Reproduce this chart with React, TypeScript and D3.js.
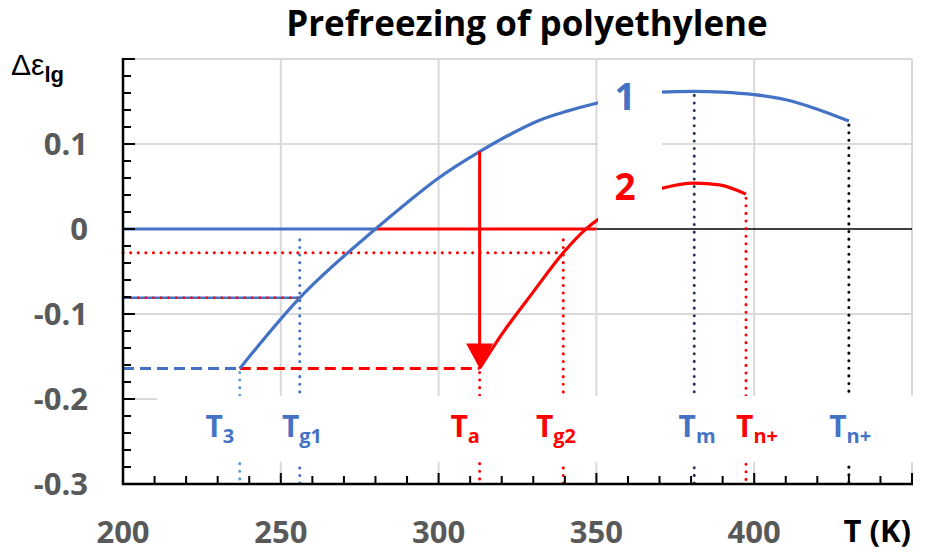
import React from 'react';
import * as d3 from 'd3';

// curve 1 (blue) and curve 2 (red)
const temps1 = [237, 256, 280, 290, 300, 313, 322, 332, 341, 350, 360, 370, 381, 390, 400, 410, 420, 430];
const vals1 = [-0.164, -0.081, 0, 0.031, 0.06, 0.091, 0.11, 0.128, 0.139, 0.148, 0.156, 0.161, 0.162, 0.161, 0.158, 0.152, 0.141, 0.127];

const temps2 = [313, 320, 330, 339.5, 347, 354, 362, 370.8, 381, 389, 397.4];
const vals2 = [-0.164, -0.124, -0.074, -0.028, 0.001, 0.02, 0.037, 0.048, 0.054, 0.052, 0.041];

// characteristic temperatures
const markerTemps = [237, 256, 313, 339.5, 381, 397.4, 430];
const markerTop = [-0.164, -0.008, -0.164, -0.008, 0.162, 0.041, 0.127];
const markerSubs = ['3', 'g1', 'a', 'g2', 'm', 'n+', 'n+'];
const labelTemps = [230.7, 256.7, 308.4, 337.2, 381.9, 400.9, 430.4];

const xTickLabels = [200, 250, 300, 350, 400];
const yTickLabels = [0.1, 0, -0.1, -0.2, -0.3];

const T3 = 237, Tg1 = 256, T0 = 280, Ta = 313, Tg2 = 339.5, Tz = 350;
const lowLevel = -0.164, g1Level = -0.081, g2Level = -0.028, arrowTop = 0.091;

const BLUE = '#4472C4';
const LBLUE = '#5B9BD5';
const NAVY = '#203864';
const RED = '#FF0000';
const GRID = '#D9D9D9';
const GRAY = '#595959';
const FONT = '"Open Sans", "DejaVu Sans", sans-serif';

const markerDotColors = [LBLUE, BLUE, RED, RED, NAVY, RED, '#000'];
const markerTextColors = [BLUE, BLUE, RED, RED, BLUE, RED, BLUE];

export default function App() {
  const W = 934, H = 556;
  const x = d3.scaleLinear().domain([200, 450]).range([123, 912]);
  const y = d3.scaleLinear().domain([-0.3, 0.2]).range([484, 59]);

  const line = d3.line<[number, number]>()
    .x(d => x(d[0]))
    .y(d => y(d[1]))
    .curve(d3.curveMonotoneX);

  const path1 = line(temps1.map((t, i) => [t, vals1[i]]) as [number, number][]) || '';
  const path2 = line(temps2.map((t, i) => [t, vals2[i]]) as [number, number][]) || '';

  const xt = x.ticks(25);
  const yt = y.ticks(25);
  const dotted = { strokeDasharray: '0.1 7.5', strokeLinecap: 'round' as const, strokeWidth: 3, fill: 'none' };
  const dashed = { strokeDasharray: '11 6', strokeWidth: 3, fill: 'none' };

  return (
    <svg width={W} height={H} style={{ position: 'absolute', left: 0, top: 0, background: '#fff' }}>
      <rect width={W} height={H} fill="#fff" />

      {/* grid */}
      {[250, 300, 350, 400, 450].map(t => (
        <line key={'gx' + t} x1={x(t)} x2={x(t)} y1={y(0.2)} y2={y(-0.3)} stroke={GRID} strokeWidth={2} />
      ))}
      {[0.2, 0.1, -0.1, -0.2].map(v => (
        <line key={'gy' + v} x1={x(200)} x2={x(450)} y1={y(v)} y2={y(v)} stroke={GRID} strokeWidth={2} />
      ))}
      <line x1={x(Tz)} x2={x(450)} y1={y(0)} y2={y(0)} stroke="#000" strokeWidth={1.5} />

      {/* vertical dotted markers */}
      {markerTemps.map((t, i) => (
        <line key={'m' + i} x1={x(t)} x2={x(t)} y1={y(markerTop[i]) + 4} y2={y(-0.3)}
          stroke={markerDotColors[i]} {...dotted} />
      ))}

      {/* horizontal guides */}
      <line x1={x(200)} x2={x(T0)} y1={y(0)} y2={y(0)} stroke={BLUE} strokeWidth={3} />
      <line x1={x(T0)} x2={x(Tz)} y1={y(0)} y2={y(0)} stroke={RED} strokeWidth={3} />
      <line x1={x(200)} x2={x(Tg2)} y1={y(g2Level)} y2={y(g2Level)} stroke={RED} {...dotted} />
      <line x1={x(200)} x2={x(Tg1)} y1={y(g1Level)} y2={y(g1Level)} stroke={BLUE} strokeWidth={2.5} />
      <line x1={x(200)} x2={x(Tg1)} y1={y(g1Level)} y2={y(g1Level)} stroke={RED} {...dotted} strokeWidth={2.5} />
      <line x1={x(200)} x2={x(T3)} y1={y(lowLevel)} y2={y(lowLevel)} stroke={BLUE} {...dashed} />
      <line x1={x(T3)} x2={x(Ta)} y1={y(lowLevel)} y2={y(lowLevel)} stroke={RED} {...dashed} />

      {/* curves */}
      <path d={path1} fill="none" stroke={BLUE} strokeWidth={3.2} />
      <path d={path2} fill="none" stroke={RED} strokeWidth={3.2} />

      {/* arrow */}
      <line x1={x(Ta)} x2={x(Ta)} y1={y(arrowTop)} y2={y(lowLevel) - 20} stroke={RED} strokeWidth={3} />
      <path d={`M${x(Ta) - 13.5},${y(lowLevel) - 25} L${x(Ta) + 13.5},${y(lowLevel) - 25} L${x(Ta)},${y(lowLevel)} Z`} fill={RED} />

      {/* white boxes */}
      <rect x={598} y={62} width={64} height={160} fill="#fff" />
      <rect x={157} y={396} width={757} height={66} fill="#fff" />

      {/* axes */}
      <line x1={x(200)} x2={x(200)} y1={y(0.2) - 1} y2={y(-0.3) + 1} stroke="#000" strokeWidth={2.5} />
      <line x1={x(200) - 1} x2={x(450) + 1} y1={y(-0.3)} y2={y(-0.3)} stroke="#000" strokeWidth={2.5} />
      {yt.map(v => {
        const major = Math.abs(v * 10 - Math.round(v * 10)) < 1e-6;
        return <line key={'yt' + v} x1={x(200)} x2={x(200) + (major ? 12 : 8)} y1={y(v)} y2={y(v)} stroke="#000" strokeWidth={2} />;
      })}
      {xt.map(t => {
        const major = t % 50 === 0;
        return <line key={'xt' + t} x1={x(t)} x2={x(t)} y1={y(-0.3)} y2={y(-0.3) - (major ? 11 : 8)} stroke="#000" strokeWidth={2} />;
      })}

      {/* tick labels */}
      {xTickLabels.map(t => (
        <text key={'xl' + t} x={x(t)} y={543} textAnchor="middle" fontFamily={FONT} fontWeight={700} fontSize={31} fill={GRAY}>{t}</text>
      ))}
      {yTickLabels.map(v => (
        <text key={'yl' + v} x={88} y={y(v)} dy="0.36em" textAnchor="end" fontFamily={FONT} fontWeight={700} fontSize={31} fill={GRAY}>{d3.format('')(v).replace('−', '-')}</text>
      ))}
      <text x={911} y={542} textAnchor="end" fontFamily={FONT} fontWeight={700} fontSize={31} fill="#000">T (K)</text>
      <text x={11} y={75} fontFamily='"Liberation Sans", Arial, sans-serif' fontSize={30} fill="#000">
        Δε<tspan dy={7} fontSize={22} fontWeight={700}>lg</tspan>
      </text>

      {/* title */}
      <text x={527} y={36} textAnchor="middle" fontFamily={FONT} fontWeight={700} fontSize={35} fill="#000">Prefreezing of polyethylene</text>

      {/* curve numbers */}
      <text x={625} y={110} textAnchor="middle" fontFamily={FONT} fontWeight={700} fontSize={37} fill={BLUE}>1</text>
      <text x={625} y={200} textAnchor="middle" fontFamily={FONT} fontWeight={700} fontSize={37} fill={RED}>2</text>

      {/* marker labels */}
      {labelTemps.map((t, i) => (
        <text key={'ml' + i} x={x(t)} y={437} textAnchor="middle" fontFamily={FONT} fontWeight={700} fontSize={30} fill={markerTextColors[i]}>
          T<tspan dy={6} fontSize={20}>{markerSubs[i]}</tspan>
        </text>
      ))}
    </svg>
  );
}
